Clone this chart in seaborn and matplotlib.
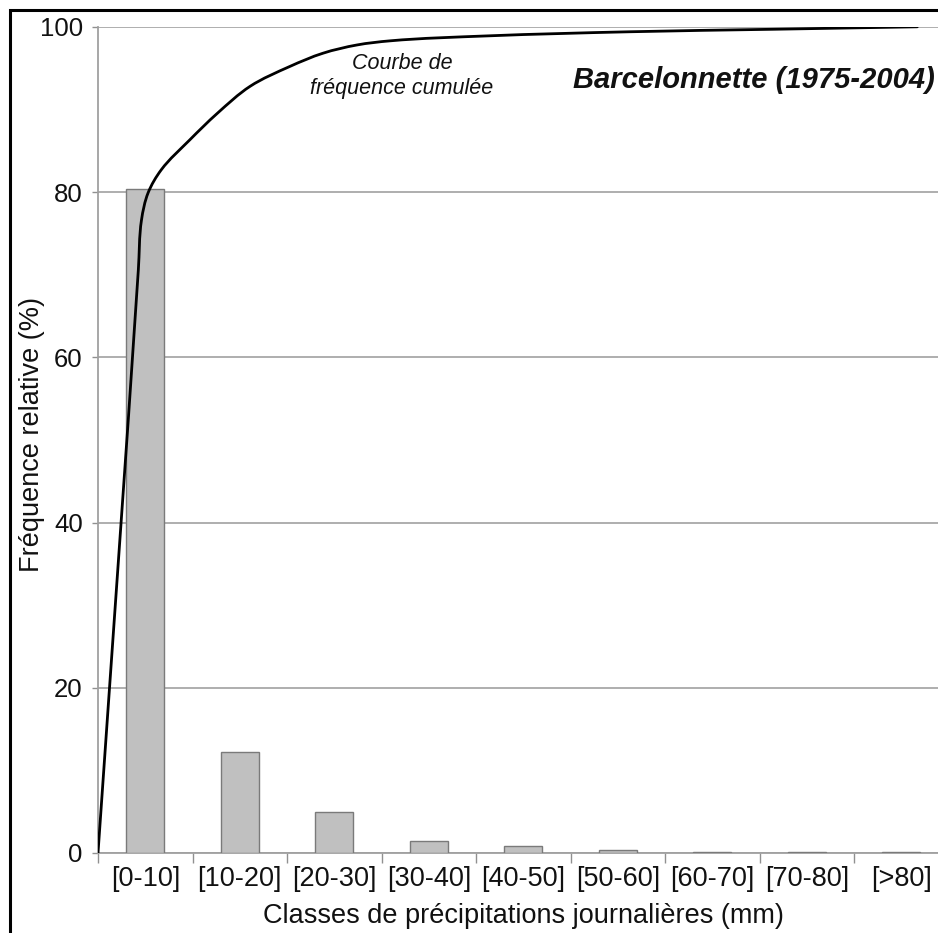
import matplotlib
matplotlib.use("Agg")
import matplotlib.pyplot as plt
from matplotlib.patches import Rectangle, PathPatch
from matplotlib.path import Path
from matplotlib.ticker import FixedLocator
import seaborn as sns
import pandas as pd
import numpy as np

# données
classes = ["[0-10]", "[10-20]", "[20-30]", "[30-40]", "[40-50]",
           "[50-60]", "[60-70]", "[70-80]", "[>80]"]
freq_rel = [80.35, 12.2, 5.0, 1.45, 0.85, 0.33, 0.15, 0.15, 0.15]

# courbe de fréquence cumulée (position en classes, valeur en %)
courbe_x = [-0.5, -0.073, -0.04, 0.03, 0.17, 0.47, 0.76, 1.11, 1.53,
            1.88, 2.24, 2.59, 3.62, 5.13, 6.64, 8.17]
courbe_y = [0.0, 70.6, 76.6, 79.9, 82.7, 86.3, 89.5, 92.8, 95.2,
            96.8, 97.8, 98.3, 98.9, 99.4, 99.7, 100.0]

yticks = [0, 20, 40, 60, 80, 100]


# courbe lissée façon tableur (segments de Bézier passant par les points)
def smooth_path(xs, ys, sx=94.5, sy=8.26):
    # on travaille dans un repère à peu près isotrope (pixels)
    p = np.column_stack([np.asarray(xs) * sx, np.asarray(ys) * sy])
    n = len(p)
    tang = np.zeros_like(p)
    for i in range(n):
        if i == 0:
            t = p[1] - p[0]
        elif i == n - 1:
            t = p[-1] - p[-2]
        else:
            u1 = (p[i] - p[i - 1]) / np.linalg.norm(p[i] - p[i - 1])
            u2 = (p[i + 1] - p[i]) / np.linalg.norm(p[i + 1] - p[i])
            t = u1 + u2
        tang[i] = t / np.linalg.norm(t)
    verts = [p[0]]
    codes = [Path.MOVETO]
    for i in range(n - 1):
        L = np.linalg.norm(p[i + 1] - p[i]) / 3
        verts += [p[i] + tang[i] * L, p[i + 1] - tang[i + 1] * L, p[i + 1]]
        codes += [Path.CURVE4] * 3
    verts = np.array(verts) / [sx, sy]
    return Path(verts, codes)


sns.set_theme(style="white")
plt.rcParams["font.family"] = ["Liberation Sans", "DejaVu Sans"]

W, H = 938, 933
fig = plt.figure(figsize=(W / 100, H / 100), dpi=100)
fig.patch.set_facecolor("white")

# zone de tracé (elle déborde à droite, comme sur l'original)
x0, y0 = 98, 853
x1, y1 = 98 + 9 * 94.5, 26.8
ax = fig.add_axes([x0 / W, 1 - y0 / H, (x1 - x0) / W, (y0 - y1) / H])

df = pd.DataFrame({"classe": classes, "freq": freq_rel})
sns.barplot(data=df, x="classe", y="freq", color="#c0c0c0", width=0.4,
            edgecolor="#7a7a7a", linewidth=1.0, saturation=1, ax=ax, zorder=3)

ax.add_patch(PathPatch(smooth_path(courbe_x, courbe_y), facecolor="none",
                       edgecolor="black", lw=2.0, zorder=4, capstyle="round",
                       joinstyle="round"))

ax.set_xlim(-0.5, 8.5)
ax.set_ylim(0, 100)
ax.set_yticks(yticks)
ax.yaxis.grid(True, color="#a8a8a8", lw=1.3)
ax.set_axisbelow(True)

# graduations x entre les classes, étiquettes au centre
ax.xaxis.set_major_locator(FixedLocator(np.arange(-0.5, 9.0, 1.0)))
ax.xaxis.set_minor_locator(FixedLocator(np.arange(0, 9)))
ax.set_xticklabels([])
ax.set_xticklabels(classes, minor=True)
ax.tick_params(axis="x", which="major", bottom=True, length=7, width=1.0,
               color="#909090", direction="out")
ax.tick_params(axis="x", which="minor", bottom=True, length=0, pad=9,
               labelsize=19.5, labelcolor="#111111")
ax.tick_params(axis="y", left=True, length=4, width=1.0, color="#909090",
               direction="out", pad=7, labelsize=18.5, labelcolor="#111111")

for s in ["top", "right"]:
    ax.spines[s].set_visible(False)
ax.spines["left"].set_color("#a0a0a0")
ax.spines["bottom"].set_color("#a0a0a0")
ax.spines["left"].set_linewidth(1.3)
ax.spines["bottom"].set_linewidth(1.3)

ax.set_xlabel("Classes de précipitations journalières (mm)", fontsize=19.5,
              color="#111111")
ax.set_ylabel("Fréquence relative (%)", fontsize=19.5, color="#111111")
ax.xaxis.set_label_coords(0.5, -0.06)
ax.yaxis.set_label_coords(-0.062, 0.507)

# annotations
fig.text(935 / W, 1 - 80 / H, "Barcelonnette (1975-2004)", fontsize=21,
         fontweight="bold", fontstyle="italic", ha="right", va="center",
         color="#111111")
fig.text(402 / W, 1 - 76 / H, "Courbe de\nfréquence cumulée", fontsize=15.5,
         fontstyle="italic", ha="center", va="center", linespacing=1.3,
         color="#111111")

# cadre noir autour de la figure
fig.patches.append(Rectangle((9.5 / W, -0.1), 1.2, 1.1 - 10.5 / H,
                             transform=fig.transFigure, fill=False,
                             edgecolor="black", lw=2.2, zorder=10))

fig.savefig("out.png", dpi=100, facecolor="white")
